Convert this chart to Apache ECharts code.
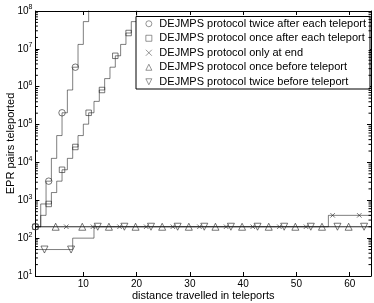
<!DOCTYPE html>
<html>
<head>
<meta charset="utf-8">
<script src="https://cdn.jsdelivr.net/npm/echarts@6/dist/echarts.min.js"></script>
<style>html,body{margin:0;padding:0;background:#fff;}#c{width:374px;height:303px;}</style>
</head>
<body>
<div id="c"></div>
<script>
// ---- data ----
const seriesNames = [
  'DEJMPS protocol twice after each teleport',
  'DEJMPS protocol once after each teleport',
  'DEJMPS protocol only at end',
  'DEJMPS protocol once before teleport',
  'DEJMPS protocol twice before teleport'
];
// step lines (value holds from x until next x)
const twiceAfterX = [1,2,3,4,5,6,7,8,9,10,11];
const twiceAfterY = [200,800,3200,12800,51200,204800,819200,3276800,13107200,52428800,209715200];
const onceAfterX = [1,2,3,4,5,6,7,8,9,10,11,12,13,14,15,16,17,18,19,20];
const onceAfterY = [200,400,800,1600,3200,6400,12800,25600,51200,102400,204800,409600,819200,1638400,3276800,6553600,13107200,26214400,52428800,104857600];
const onlyEndX = [1,56,64];
const onlyEndY = [200,400,400];
const onceBeforeX = [1,64];
const onceBeforeY = [200,200];
const twiceBeforeX = [1,8,12,64];
const twiceBeforeY = [50,100,200,200];
// marker positions
const twiceAfterMX = [1,3.5,6,8.5];
const twiceAfterMY = [200,3200,204800,3276800];
const onceAfterMX = [1,3.5,6,8.5,11,13.5,16,18.5];
const onceAfterMY = [200,800,6400,25600,204800,819200,6553600,26214400];
const onlyEndMX = [6.8,11.8,16.8,21.8,26.8,31.8,36.8,41.8,46.8,51.8,56.8,61.8];
const onlyEndMY = [200,200,200,200,200,200,200,200,200,200,400,400];
const onceBeforeMX = [4.8,9.8,14.8,19.8,24.8,29.8,34.8,39.8,44.8,49.8,54.8,59.8];
const onceBeforeMY = [200,200,200,200,200,200,200,200,200,200,200,200];
const twiceBeforeMX = [2.7,7.7,12.7,17.7,22.7,27.7,32.7,37.7,42.7,47.7,52.7,57.7,62.7];
const twiceBeforeMY = [50,50,200,200,200,200,200,200,200,200,200,200,200];
// axes
const xTicks = [10,20,30,40,50,60];
const xMin = 1, xMax = 64, yMin = 10, yMax = 1e8;

const zip = (a, b) => a.map((v, i) => [v, b[i]]);
const minorVals = [];
for (let e = 1; e < 8; e++) for (let m = 2; m <= 9; m++) minorVals.push([xMin, m * Math.pow(10, e)]);

const lineColor = 'rgba(0,0,0,0.5)';
const markColor = '#2a2a2a';
const markStyle = { color: 'rgba(0,0,0,0)', borderColor: markColor, borderWidth: 0.8 };
const symbols = ['circle', 'rect', 'path://M0,0L10,10M10,0L0,10', 'triangle', 'path://M0,0L10,0L5,10Z'];
const symSizes = [6.5, 5.5, 4.5, 7, 7];
const lineSets = [[twiceAfterX, twiceAfterY],[onceAfterX, onceAfterY],[onlyEndX, onlyEndY],[onceBeforeX, onceBeforeY],[twiceBeforeX, twiceBeforeY]];
const markSets = [[twiceAfterMX, twiceAfterMY],[onceAfterMX, onceAfterMY],[onlyEndMX, onlyEndMY],[onceBeforeMX, onceBeforeMY],[twiceBeforeMX, twiceBeforeMY]];

const series = [];
lineSets.forEach((s, i) => {
  series.push({
    name: 'line' + i, type: 'line', step: 'end', data: zip(s[0], s[1]),
    showSymbol: false, symbol: 'none', lineStyle: { color: lineColor, width: 1 },
    clip: true, silent: true, z: 2
  });
});
markSets.forEach((s, i) => {
  series.push({
    name: seriesNames[i], type: 'scatter', data: zip(s[0], s[1]),
    symbol: symbols[i], symbolSize: symSizes[i], itemStyle: markStyle, z: 3, silent: true
  });
});
series.push({
  type: 'custom', name: 'minor', data: minorVals, silent: true, clip: false, z: 4,
  encode: { x: 0, y: 1 },
  renderItem: (params, api) => {
    const v = api.value(1);
    const pl = api.coord([xMin, v]);
    const pr = api.coord([xMax, v]);
    return { type: 'group', children: [
      { type: 'line', shape: { x1: pl[0], y1: pl[1], x2: pl[0] + 2.5, y2: pl[1] }, style: { stroke: '#000', lineWidth: 1 } },
      { type: 'line', shape: { x1: pr[0], y1: pr[1], x2: pr[0] - 2.5, y2: pr[1] }, style: { stroke: '#000', lineWidth: 1 } }
    ]};
  }
});

const font = 'Liberation Sans';
const chart = echarts.init(document.getElementById('c'), null, { renderer: 'canvas' });
chart.setOption({
  animation: false,
  backgroundColor: '#fff',
  textStyle: { fontFamily: font },
  grid: { left: 35.4, right: 3, top: 11, bottom: 27, containLabel: false, outerBoundsMode: 'none' },
  legend: {
    data: seriesNames, orient: 'vertical', left: 136, top: 16.5,
    itemWidth: 6, itemHeight: 6, itemGap: 0,
    itemStyle: { color: 'rgba(0,0,0,0)', borderColor: '#444', borderWidth: 0.7 },
    padding: [0, 4, 0, 9.5], backgroundColor: '#fff', borderColor: '#000', borderWidth: 1,
    textStyle: { fontFamily: font, fontSize: 11, color: '#000', lineHeight: 14.5, padding: [0, 0, 0, 2.5] },
    selectedMode: false
  },
  xAxis: [{
    type: 'value', min: xMin, max: xMax, position: 'bottom',
    name: 'distance travelled in teleports', nameLocation: 'middle', nameGap: 14, nameMoveOverlap: false,
    nameTextStyle: { fontFamily: font, fontSize: 11, color: '#000' },
    axisLine: { show: true, onZero: false, lineStyle: { color: '#000', width: 1 } },
    axisTick: { show: true, inside: true, length: 4, customValues: xTicks, lineStyle: { color: '#000' } },
    axisLabel: { customValues: xTicks, fontFamily: font, fontSize: 10, color: '#000', margin: 3 },
    splitLine: { show: false }
  }, {
    type: 'value', min: xMin, max: xMax, position: 'top',
    axisLine: { show: true, onZero: false, lineStyle: { color: '#000', width: 1 } },
    axisTick: { show: true, inside: true, length: 4, customValues: xTicks, lineStyle: { color: '#000' } },
    axisLabel: { show: false }, splitLine: { show: false }
  }],
  yAxis: [{
    type: 'log', logBase: 10, min: yMin, max: yMax, splitNumber: 7, position: 'left',
    name: 'EPR pairs teleported', nameLocation: 'middle', nameGap: 19, nameRotate: 90, nameMoveOverlap: false,
    nameTextStyle: { fontFamily: font, fontSize: 11, color: '#000' },
    axisLine: { show: true, onZero: false, lineStyle: { color: '#000', width: 1 } },
    axisTick: { show: true, inside: true, length: 4, lineStyle: { color: '#000' } },
    axisLabel: {
      margin: 3, color: '#000', fontFamily: font,
      formatter: v => '{b|10}{s|' + Math.round(Math.log10(v)) + '}',
      rich: { b: { fontSize: 10, fontFamily: font, color: '#000' }, s: { fontSize: 7, fontFamily: font, color: '#000', padding: [0, 0, 7, 0] } }
    },
    splitLine: { show: false }
  }, {
    type: 'log', logBase: 10, min: yMin, max: yMax, splitNumber: 7, position: 'right',
    axisLine: { show: true, onZero: false, lineStyle: { color: '#000', width: 1 } },
    axisTick: { show: true, inside: true, length: 4, lineStyle: { color: '#000' } },
    axisLabel: { show: false }, splitLine: { show: false }
  }],
  series: series
});
</script>
</body>
</html>
